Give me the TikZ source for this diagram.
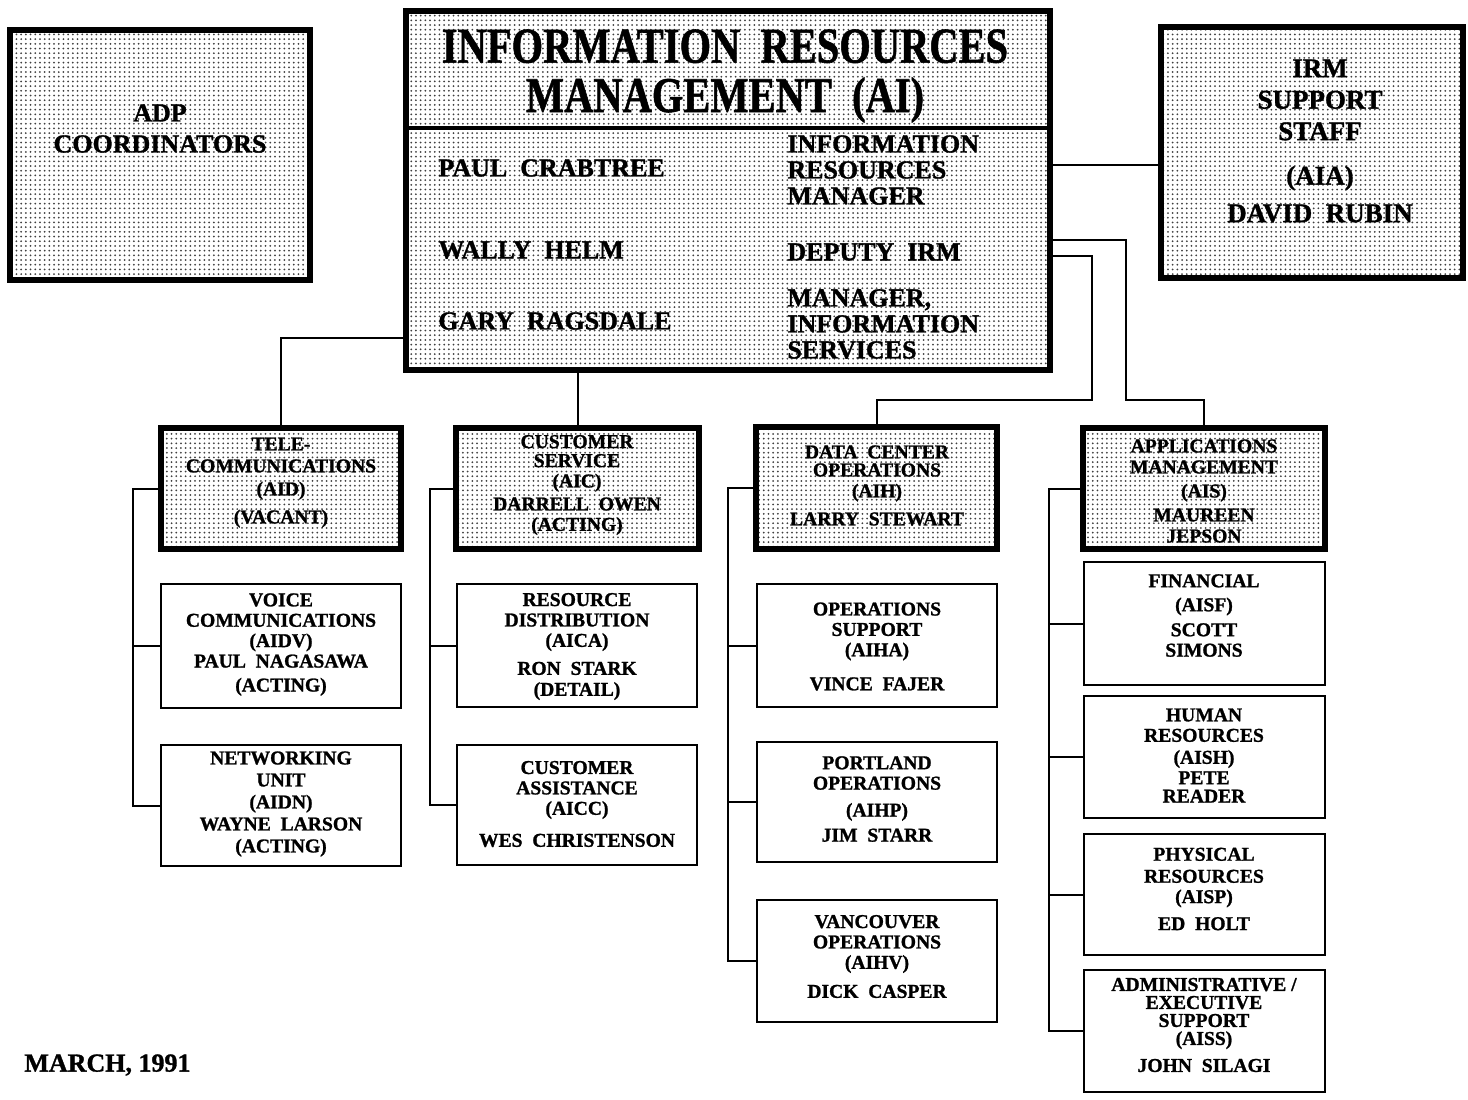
\documentclass[tikz,border=0pt]{standalone}
\usepackage{fontspec}
\setmainfont{Liberation Serif}[BoldFeatures={FakeBold=1.2}]
\usepackage{graphicx}
\usetikzlibrary{patterns.meta}

% fine dot screen used as the fill of the shaded boxes
\tikzdeclarepattern{
  name=stipple,
  type=uncolored,
  bottom left={(-0.1pt,-0.1pt)},
  top right={(2.45pt,2.45pt)},
  tile size={(2.35pt,2.35pt)},
  code={\fill (1.175pt,1.175pt) circle (0.5pt);}
}

% box of given centre and size (sizes in picture units)
\newcommand\orgbox[6]{\node[#1, minimum width=#4*0.5pt, minimum height=#5*0.5pt] (#6) at (#2,#3) {};}

\begin{document}
\begin{tikzpicture}[x=0.5pt, y=-0.5pt,
  heavy/.style={draw, line width=3.2pt, pattern=stipple, pattern color=black!75, inner sep=0pt},
  light/.style={draw, line width=1.1pt, inner sep=0pt},
  link/.style={line width=1pt},
  unit/.style={align=center, inner sep=0pt, font=\fontsize{9.8}{10.2}\selectfont\bfseries},
  big/.style={align=center, inner sep=0pt, font=\fontsize{13.5}{15.75}\selectfont\bfseries},
  person/.style={align=left, anchor=west, inner sep=0pt, font=\fontsize{13}{13}\selectfont\bfseries}
]
\useasboundingbox (0,0) rectangle (1468,1099);

% ---- top level ----
\orgbox{heavy}{160}{155}{300}{250}{adp}
\orgbox{heavy}{728}{190.5}{644}{359}{main}
\orgbox{heavy}{1312}{152.5}{302}{251}{irm}
\draw[line width=1.6pt] (main.west |- 0,128) -- (main.east |- 0,128);

% ---- divisions ----
\orgbox{heavy}{281}{488.5}{240}{121}{tel}
\orgbox{heavy}{577.5}{488.5}{243}{121}{cs}
\orgbox{heavy}{876.5}{488}{241}{122}{dc}
\orgbox{heavy}{1204}{488.5}{242}{121}{app}

% ---- units ----
\orgbox{light}{281}{646}{240}{124}{voice}
\orgbox{light}{281}{805.5}{240}{121}{net}
\orgbox{light}{577}{645.5}{240}{123}{res}
\orgbox{light}{577}{805}{240}{120}{ca}
\orgbox{light}{877}{645.5}{240}{123}{ops}
\orgbox{light}{877}{802}{240}{120}{port}
\orgbox{light}{877}{961}{240}{122}{van}
\orgbox{light}{1204.5}{623.5}{241}{123}{fin}
\orgbox{light}{1204.5}{757}{241}{122}{hr}
\orgbox{light}{1204.5}{894.5}{241}{121}{phys}
\orgbox{light}{1204.5}{1031}{241}{122}{admin}

% ---- connectors from the IRM office ----
\draw[link] (main.east |- 0,165) -- (irm.west |- 0,165);
\draw[link] (main.west |- 0,338) -| (tel.north);
\draw[link] (main.south -| cs.north) -- (cs.north);
\draw[link] (main.east |- 0,256) -| (1092,400) -| (dc.north);
\draw[link] (main.east |- 0,240) -| (1126,400) -| (app.north);

% ---- spines inside each division ----
\coordinate (s1) at (133,0);
\coordinate (s2) at (430,0);
\coordinate (s3) at (728,0);
\coordinate (s4) at (1049,0);
\draw[link] (tel.west) -| (s1 |- net.west) -- (net.west);
\draw[link] (s1 |- voice.west) -- (voice.west);
\draw[link] (cs.west) -| (s2 |- ca.west) -- (ca.west);
\draw[link] (s2 |- res.west) -- (res.west);
\draw[link] (dc.west) -| (s3 |- van.west) -- (van.west);
\draw[link] (s3 |- ops.west) -- (ops.west);
\draw[link] (s3 |- port.west) -- (port.west);
\draw[link] (app.west) -| (s4 |- admin.west) -- (admin.west);
\draw[link] (s4 |- fin.west) -- (fin.west);
\draw[link] (s4 |- hr.west) -- (hr.west);
\draw[link] (s4 |- phys.west) -- (phys.west);

% ---- texts ----
\node[inner sep=0pt, font=\fontsize{25}{24.5}\selectfont\bfseries] (ttl) at (725,77.5)
  {\scalebox{0.81}[1]{\begin{tabular}{@{}c@{}}INFORMATION\ \ RESOURCES\\MANAGEMENT\ \ (AI)\end{tabular}}};
\node[person] (n1) at (438,168) {PAUL\ \ CRABTREE};
\node[person] (n2) at (438,250) {WALLY\ \ HELM};
\node[person] (n3) at (438,321) {GARY\ \ RAGSDALE};
\node[person] (r1) at (787,170) {INFORMATION\\RESOURCES\\MANAGER};
\node[person] (r2) at (787,252) {DEPUTY\ \ IRM};
\node[person] (r3) at (787,324) {MANAGER,\\INFORMATION\\SERVICES};

\node[big, font=\fontsize{13}{15.5}\selectfont\bfseries] (tadp) at (160,128.5) {ADP\\COORDINATORS};
\node[big] (tirm) at (1320,141) {IRM\\SUPPORT\\STAFF\\[6.5pt](AIA)\\[3pt]DAVID\ \ RUBIN};

\node[unit] (ttel) at (281,482.5) {TELE-\\[0.8pt]COMMUNICATIONS\\[1.3pt](AID)\\[3.8pt](VACANT)};
\node[unit] (tcs) at (577,485) {CUSTOMER\\[-0.7pt]SERVICE\\(AIC)\\[1.3pt]DARRELL\ \ OWEN\\(ACTING)};
\node[unit] (tdc) at (877,485.5) {DATA\ \ CENTER\\[-1.2pt]OPERATIONS\\[0.3pt](AIH)\\[3.8pt]LARRY\ \ STEWART};
\node[unit] (tapp) at (1204,491) {APPLICATIONS\\[0.3pt]MANAGEMENT\\[1.8pt](AIS)\\[1.8pt]MAUREEN\\[0.3pt]JEPSON};

\node[unit] (tvoice) at (281,644.5) {VOICE\\COMMUNICATIONS\\(AIDV)\\PAUL\ \ NAGASAWA\\[1.8pt](ACTING)};
\node[unit] (tnet) at (281,804) {NETWORKING\\[0.8pt]UNIT\\[0.8pt](AIDN)\\[0.8pt]WAYNE\ \ LARSON\\[0.8pt](ACTING)};
\node[unit] (tres) at (577,646.5) {RESOURCE\\DISTRIBUTION\\(AICA)\\[3.8pt]RON\ \ STARK\\[0.3pt](DETAIL)};
\node[unit] (tca) at (577,804) {CUSTOMER\\ASSISTANCE\\(AICC)\\[5.8pt]WES\ \ CHRISTENSON};
\node[unit] (tops) at (877,646.5) {OPERATIONS\\SUPPORT\\(AIHA)\\[6.8pt]VINCE\ \ FAJER};
\node[unit] (tport) at (877,799) {PORTLAND\\OPERATIONS\\[3.3pt](AIHP)\\[2.3pt]JIM\ \ STARR};
\node[unit] (tvan) at (877,956.5) {VANCOUVER\\OPERATIONS\\(AIHV)\\[4.3pt]DICK\ \ CASPER};
\node[unit] (tfin) at (1204,615.5) {FINANCIAL\\[1.8pt](AISF)\\[2.3pt]SCOTT\\SIMONS};
\node[unit] (thr) at (1204,755.5) {HUMAN\\RESOURCES\\[0.8pt](AISH)\\PETE\\[-1pt]READER};
\node[unit] (tphys) at (1204,889) {PHYSICAL\\[0.8pt]RESOURCES\\(AISP)\\[3.3pt]ED\ \ HOLT};
\node[unit] (tadmin) at (1204,1025) {ADMINISTRATIVE /\\[-1.2pt]EXECUTIVE\\[-1.2pt]SUPPORT\\[-1.2pt](AISS)\\[3.3pt]JOHN\ \ SILAGI};

\node[anchor=west, inner sep=0pt, font=\fontsize{13}{15}\selectfont\bfseries] (date) at (24,1065) {MARCH, 1991};
\end{tikzpicture}
\end{document}
